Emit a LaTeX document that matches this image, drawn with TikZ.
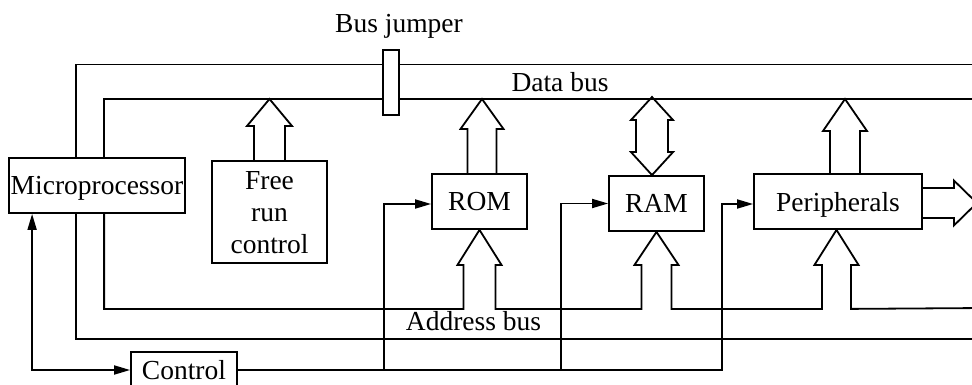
\documentclass[tikz,border=0pt]{standalone}
\usepackage{fontspec}
\setmainfont{Liberation Serif}
\usetikzlibrary{arrows.meta,calc}

% fat (hollow) up arrow from a base point on a box edge to a tip point on a bus
% #1 base, #2 tip, #3 shaft half width, #4 head half width, #5 head length
\newcommand{\fatup}[5]{%
  \draw[fat] ($(#1)+(-#3,0)$) -- ($(#2)+(-#3,#5)$) -- ($(#2)+(-#4,#5)$) -- (#2)
    -- ($(#2)+(#4,#5)$) -- ($(#2)+(#3,#5)$) -- ($(#1)+(#3,0)$);}

\begin{document}
\begin{tikzpicture}[x=1pt,y=-1pt,
  txt/.style={font=\fontsize{27.5}{32}\selectfont},
  box/.style={draw, line width=1.8pt, inner sep=0pt, text depth=0pt, txt},
  wire/.style={line width=1.8pt},
  fat/.style={line width=1.8pt, line join=miter},
  arr/.style={-{Triangle[length=16pt,width=9pt]}},
  darr/.style={{Triangle[length=16pt,width=9pt]}-{Triangle[length=16pt,width=9pt]}}
]
\useasboundingbox (0,0) rectangle (972,385);
\clip (0,0) rectangle (972,385);

% boxes
\node[box, minimum width=176pt, minimum height=55pt] (micro) at (97,185.5) {Microprocessor};
\node[box, minimum width=115pt, minimum height=102pt, align=center] (free) at (269.5,212) {Free\\run\\control};
\node[box, minimum width=95pt, minimum height=55pt] (rom) at (479.5,201.5) {ROM};
\node[box, minimum width=95pt, minimum height=55pt] (ram) at (656.5,203.5) {RAM};
\node[box, minimum width=168pt, minimum height=55pt] (per) at (838,201.5) {Peripherals};
\node[box, minimum width=106pt, minimum height=36pt] (ctrl) at (184,370) {Control};

% bus levels
\coordinate (tbus) at (0,64.5);
\coordinate (dbus) at (0,99);
\coordinate (abus) at (0,308);
\coordinate (obus) at (0,339);
\coordinate (redge) at (985,0);

% microprocessor bus taps
\coordinate (m1t) at ($(micro.north west)+(68,0)$);
\coordinate (m2t) at ($(micro.north west)+(96,0)$);
\coordinate (m1b) at ($(micro.south west)+(68,0)$);
\coordinate (m2b) at ($(micro.south west)+(96,0)$);
\coordinate (mc)  at ($(micro.south west)+(24,0)$);

% upper buses
\draw[wire] (m1t) |- (redge |- tbus);
\draw[wire] (m2t) |- (redge |- dbus);

% lower buses
\draw[wire] (m1b) |- (redge |- obus);
\coordinate (ra) at (rom.south);
\coordinate (rb) at (ram.south);
\coordinate (pb) at ($(per.south)+(-1.5,0)$);
\draw[fat] (m2b) |- ($(ra)+(-16,79)$)
   -- ($(ra)+(-16,35)$) -- ($(ra)+(-22,35)$) -- (ra) -- ($(ra)+(22,35)$) -- ($(ra)+(16,35)$) -- ($(ra)+(16,79)$)
   -- ($(rb)+(-15,77)$)
   -- ($(rb)+(-15,33)$) -- ($(rb)+(-22,33)$) -- (rb) -- ($(rb)+(22,33)$) -- ($(rb)+(15,33)$) -- ($(rb)+(15,77)$)
   -- ($(pb)+(-14.5,79)$)
   -- ($(pb)+(-14.5,35)$) -- ($(pb)+(-22,35)$) -- (pb) -- ($(pb)+(22,35)$) -- ($(pb)+(14.5,35)$) -- ($(pb)+(14.5,79)$)
   -- (redge |- abus);

% data bus arrows
\coordinate (fb) at (free.north);
\coordinate (ft) at (free.north |- dbus);
\fatup{fb}{ft}{15.5}{22.5}{27}
\coordinate (rob) at ($(rom.north)+(2.5,0)$);
\coordinate (rot) at (rob |- dbus);
\fatup{rob}{rot}{14.5}{21.5}{30}
\coordinate (peb) at ($(per.north)+(7,0)$);
\coordinate (pet) at (peb |- dbus);
\fatup{peb}{pet}{15}{22}{32}

% RAM bidirectional fat arrow
\coordinate (rmb) at ($(ram.north)+(-4.5,0)$);
\coordinate (rmt) at ($(rmb |- dbus)+(0,-2)$);
\draw[fat] (rmt) -- ($(rmt)+(21,23)$) -- ($(rmt)+(16,23)$) -- ($(rmb)+(16,-23)$) -- ($(rmb)+(21,-23)$)
  -- (rmb) -- ($(rmb)+(-21,-23)$) -- ($(rmb)+(-16,-23)$) -- ($(rmt)+(-16,23)$) -- ($(rmt)+(-21,23)$) -- cycle;

% peripherals output fat arrow
\coordinate (po) at ($(per.east)+(0,1.5)$);
\draw[fat] ($(po)+(0,-15)$) -- ($(po)+(31,-15)$) -- ($(po)+(31,-22.5)$) -- ($(po)+(54,0)$)
  -- ($(po)+(31,22.5)$) -- ($(po)+(31,15)$) -- ($(po)+(0,15)$);

% control lines
\draw[wire, darr] (mc) |- (ctrl.west);
\coordinate (rin) at ($(rom.west)+(0,2.5)$);
\coordinate (min) at (ram.west);
\coordinate (pin) at ($(per.west)+(0,2.5)$);
\draw[wire, arr] (ctrl.east) -| ($(rin)+(-47,0)$) -- (rin);
\draw[wire, arr] (ctrl.east) -| ($(min)+(-47,0)$) -- (min);
\draw[wire, arr] (ctrl.east) -| ($(pin)+(-31,0)$) -- (pin);

% bus jumper
\node[draw, fill=white, line width=1.8pt, minimum width=16pt, minimum height=65pt, inner sep=0pt] (jump) at (391,82.5) {};

% labels
\node[txt, anchor=base, inner sep=0pt] (jl) at (399,33) {Bus jumper};
\node[txt, anchor=base, inner sep=0pt] (dl) at (560,91.5) {Data bus};
\node[txt, anchor=base, inner sep=0pt] (al) at (473.5,330) {Address bus};
\end{tikzpicture}
\end{document}
